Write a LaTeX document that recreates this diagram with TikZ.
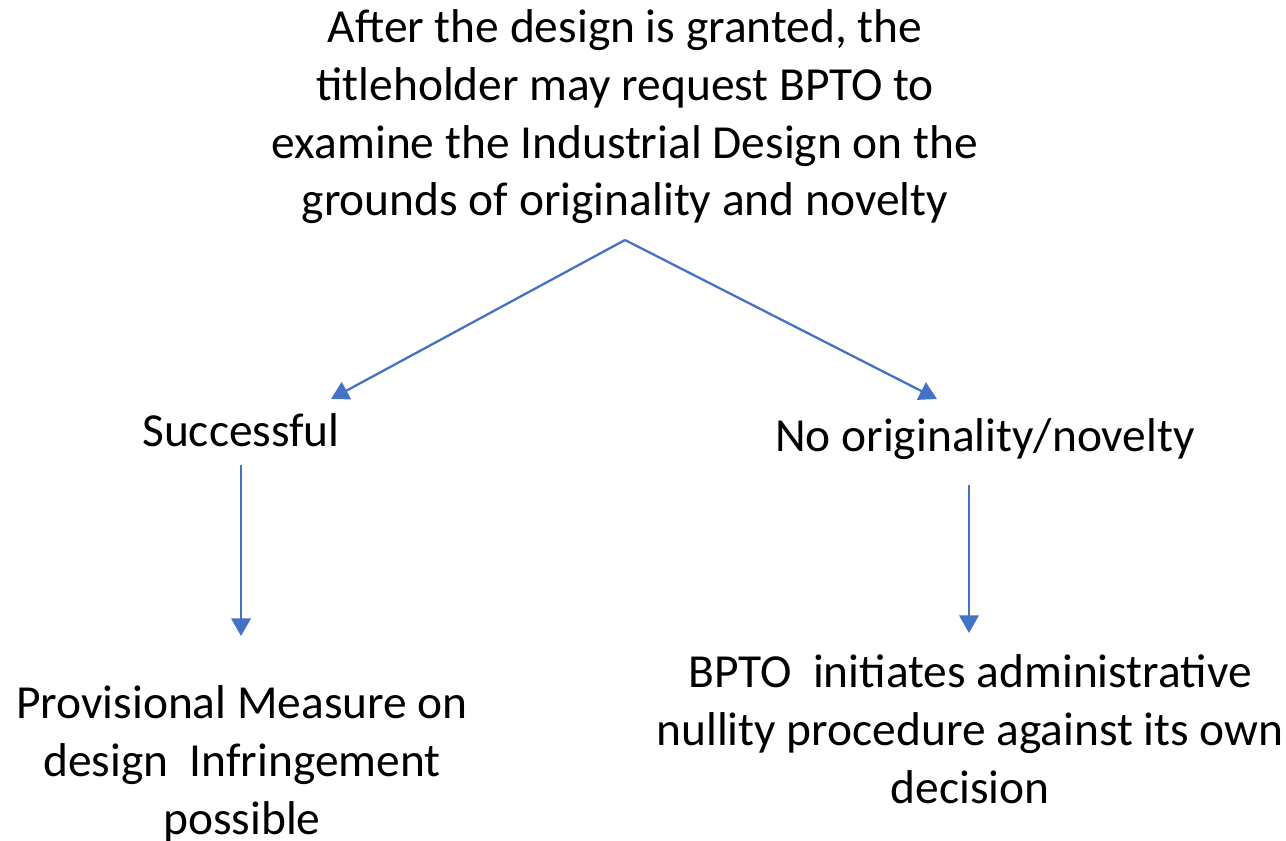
\documentclass[tikz,border=0pt]{standalone}
\usepackage{fontspec}
\setmainfont{Carlito}
\usetikzlibrary{arrows.meta}

\definecolor{arrowblue}{HTML}{4472C4}

\begin{document}
\begin{tikzpicture}[x=0.02cm, y=-0.02cm,
    txt/.style={align=center, inner sep=0pt, font=\fontsize{27}{33}\selectfont},
    arr/.style={draw=arrowblue, line width=1.3pt, -{Triangle[length=10pt,width=11pt]}}]
  \useasboundingbox (0,0) rectangle (1286,841);
  \clip (0,0) rectangle (1286,841);
  % question (base = last line)
  \node (req) at (625,216) [txt, anchor=base] {After the design is granted, the\\titleholder may request BPTO to\\examine the Industrial Design on the\\grounds of originality and novelty};
  % outcomes
  \node (succ) at (241,447) [txt, anchor=base] {Successful};
  \node (nonov) at (985,452) [txt, anchor=base] {No originality/novelty};
  % consequences
  \node (prov) at (242,834) [txt, anchor=base] {Provisional Measure on\\design~~Infringement\\possible};
  \node (null) at (970,803) [txt, anchor=base] {BPTO~~initiates administrative\\nullity procedure against its own\\decision};
  % arrow ends
  \coordinate (fork) at (625,240);
  \coordinate (succin) at (331,399);
  \coordinate (nonovin) at (937,399);
  \coordinate (succout) at (241,465);
  \coordinate (provin) at (241,636);
  \coordinate (nonovout) at (969,485);
  \coordinate (nullin) at (969,633);
  \draw[arr] (fork) -- (succin);
  \draw[arr] (fork) -- (nonovin);
  \draw[arr] (succout) -- (provin);
  \draw[arr] (nonovout) -- (nullin);
\end{tikzpicture}
\end{document}
